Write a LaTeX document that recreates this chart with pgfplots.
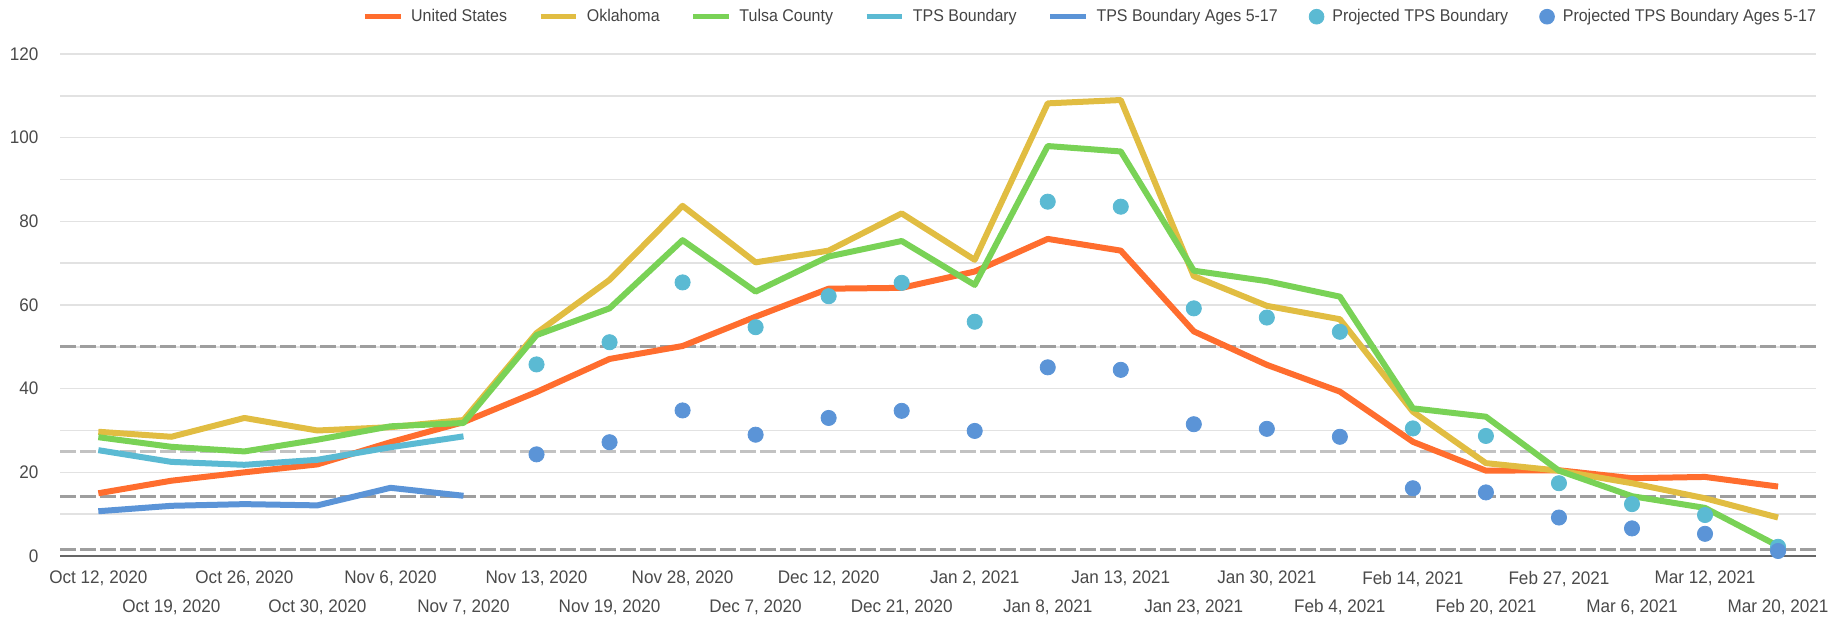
\documentclass[border=0pt]{standalone}
\usepackage{pgfplots}
\pgfplotsset{compat=1.18}
\usepackage{pgfplotstable}
\usepackage{fontspec}
\setmainfont{Liberation Sans}[FakeStretch=0.94]

\definecolor{cUS}{HTML}{FF6D2E}
\definecolor{cOK}{HTML}{E1BD42}
\definecolor{cTC}{HTML}{79D256}
\definecolor{cTPS}{HTML}{5BBAD3}
\definecolor{cAge}{HTML}{5B94D7}
\definecolor{txt}{HTML}{4A4A4A}
\definecolor{legtxt}{HTML}{444444}
\definecolor{gridc}{HTML}{E2E2E2}
\definecolor{dashc}{HTML}{9E9E9E}
\definecolor{dashl}{HTML}{C2C2C2}
\definecolor{basec}{HTML}{666666}

\pgfplotstableread{
i us ok tc
0 15.0 29.7 28.4
1 18.0 28.5 26.1
2 20.0 33.0 25.0
3 21.9 30.0 27.8
4 27.2 30.8 31.0
5 32.0 32.5 31.8
6 39.2 53.3 52.8
7 47.1 66.0 59.2
8 50.2 83.7 75.5
9 57.2 70.2 63.2
10 63.9 73.0 71.6
11 64.1 81.9 75.3
12 68.0 70.8 64.8
13 75.8 108.2 98.0
14 73.0 109.0 96.7
15 53.7 66.9 68.2
16 45.7 59.8 65.7
17 39.3 56.6 62.0
18 27.3 34.5 35.3
19 20.4 22.2 33.3
20 20.5 20.4 20.4
21 18.6 17.4 14.3
22 18.9 13.8 11.5
23 16.6 9.2 2.4
}\maintab

\pgfplotstableread{
i tps age
0 25.3 10.7
1 22.5 12.0
2 21.8 12.4
3 23.0 12.1
4 26.0 16.3
5 28.6 14.4
}\tpstab

\pgfplotstableread{
i ptps page
6 45.8 24.3
7 51.1 27.2
8 65.4 34.8
9 54.7 29.0
10 62.1 33.0
11 65.3 34.7
12 56.0 29.9
13 84.7 45.1
14 83.5 44.5
15 59.2 31.5
16 57.0 30.4
17 53.6 28.5
18 30.5 16.2
19 28.7 15.2
20 17.4 9.2
21 12.4 6.6
22 9.8 5.3
23 2.2 1.2
}\projtab

\pgfplotsset{
  lineleg/.style={legend image code/.code={\draw[##1,line width=2.6pt] (0pt,0pt) -- (17.8pt,0pt);}},
  dotleg/.style={legend image code/.code={\fill[##1] (8.9pt,0pt) circle (3.7pt);}},
}

\begin{document}
\begin{tikzpicture}
\begin{axis}[
  scale only axis,
  width=878pt, height=251pt,
  xmin=-0.525, xmax=23.52,
  ymin=0, ymax=120,
  clip=false,
  axis line style={draw=none},
  major tick length=0pt, minor tick length=0pt,
  tick style={draw=none},
  ytick={0,20,...,120},
  minor ytick={10,30,...,110},
  ymajorgrids, yminorgrids,
  major grid style={color=gridc, line width=0.75pt},
  minor grid style={color=gridc, line width=0.75pt},
  /pgf/number format/assume math mode=true,
  ticklabel style={font=\fontsize{9.1}{10.5}\selectfont, text=txt},
  yticklabel style={xshift=-7.3pt},
  xtick={0,2,...,22},
  xticklabels={{Oct 12, 2020},{Oct 26, 2020},{Nov 6, 2020},{Nov 13, 2020},{Nov 28, 2020},{Dec 12, 2020},{Jan 2, 2021},{Jan 13, 2021},{Jan 30, 2021},{Feb 14, 2021},{Feb 27, 2021},{Mar 12, 2021}},
  xticklabel style={yshift=-4.1pt},
  extra x ticks={1,3,...,23},
  extra x tick labels={{Oct 19, 2020},{Oct 30, 2020},{Nov 7, 2020},{Nov 19, 2020},{Dec 7, 2020},{Dec 21, 2020},{Jan 8, 2021},{Jan 23, 2021},{Feb 4, 2021},{Feb 20, 2021},{Mar 6, 2021},{Mar 20, 2021}},
  extra x tick style={grid=none, xticklabel style={yshift=-14.1pt}},
  legend columns=-1,
  legend style={at={(1,1.0743)}, anchor=east, draw=none, fill=none,
    inner sep=0pt, outer sep=0pt,
    font=\fontsize{8.5}{10}\selectfont, text=legtxt,
    nodes={inner sep=0pt},
    /tikz/every odd column/.append style={column sep=4pt},
    /tikz/every even column/.append style={column sep=15.5pt}},
  line join=round,
]
% threshold lines and baseline
\addplot[forget plot, color=dashc, line width=1.6pt, dash pattern=on 8pt off 2pt] coordinates {(-0.525,50) (23.52,50)};
\addplot[forget plot, color=dashl, line width=1.6pt, dash pattern=on 8pt off 2pt] coordinates {(-0.525,25) (23.52,25)};
\addplot[forget plot, color=dashc, line width=1.6pt, dash pattern=on 8pt off 2pt] coordinates {(-0.525,14.3) (23.52,14.3)};
\addplot[forget plot, color=dashc, line width=1.6pt, dash pattern=on 8pt off 2pt] coordinates {(-0.525,1.5) (23.52,1.5)};
\addplot[forget plot, color=basec, line width=1.2pt] coordinates {(-0.525,0) (23.52,0)};

\addplot[lineleg, color=cUS, line width=3pt, no marks] table[x=i, y=us] {\maintab};
\addlegendentry{United States}
\addplot[lineleg, color=cOK, line width=3pt, no marks] table[x=i, y=ok] {\maintab};
\addlegendentry{Oklahoma}
\addplot[lineleg, color=cTC, line width=3pt, no marks] table[x=i, y=tc] {\maintab};
\addlegendentry{Tulsa County}
\addplot[lineleg, color=cTPS, line width=3pt, no marks] table[x=i, y=tps] {\tpstab};
\addlegendentry{TPS Boundary}
\addplot[lineleg, color=cAge, line width=3pt, no marks] table[x=i, y=age] {\tpstab};
\addlegendentry{TPS Boundary Ages 5-17}
\addplot[dotleg, color=cTPS, only marks, mark=*, mark size=3.8pt, mark options={draw=none, fill=cTPS}] table[x=i, y=ptps] {\projtab};
\addlegendentry{Projected TPS Boundary}
\addplot[dotleg, color=cAge, only marks, mark=*, mark size=3.8pt, mark options={draw=none, fill=cAge}] table[x=i, y=page] {\projtab};
\addlegendentry{Projected TPS Boundary Ages 5-17}
\end{axis}
\pgfresetboundingbox
\path (-30pt,-30.5pt) rectangle (890.5pt,278pt);
\end{tikzpicture}
\end{document}
